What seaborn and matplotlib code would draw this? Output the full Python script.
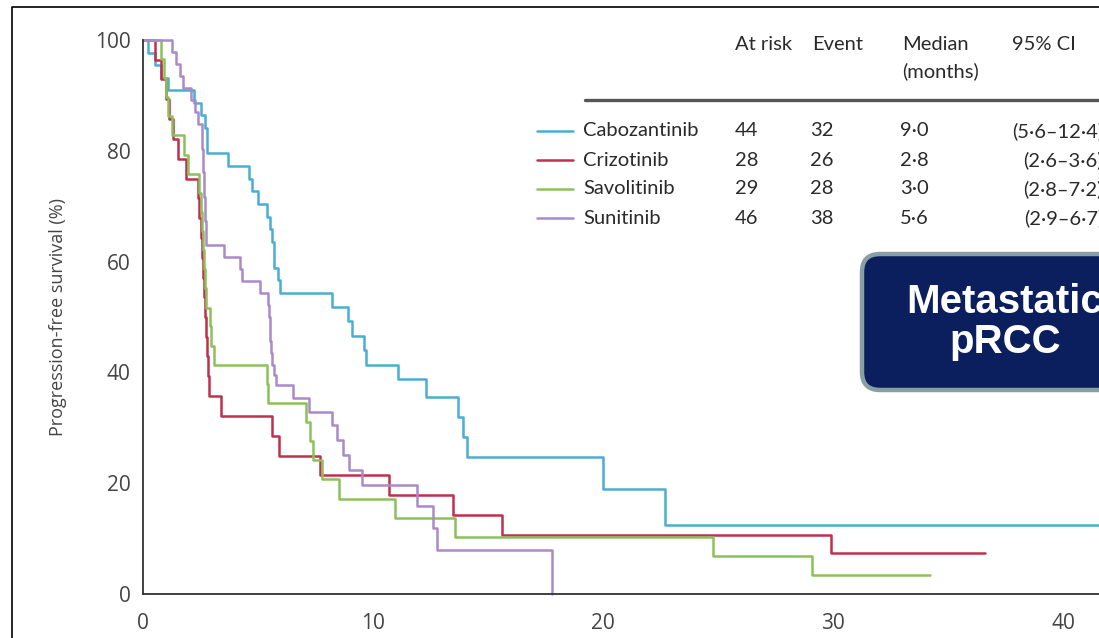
import matplotlib
matplotlib.use("Agg")
import matplotlib.pyplot as plt
from matplotlib.patches import FancyBboxPatch
import numpy as np
import pandas as pd
import seaborn as sns

# Kaplan-Meier step points: (month, % progression-free) after each event
cabo_t = [0, 0.2, 0.5, 0.8, 1.1, 2.2, 2.5, 2.7, 2.8, 3.7, 4.6, 4.75, 5.0, 5.4, 5.5,
          5.6, 5.7, 5.85, 5.95, 8.2, 8.9, 9.1, 9.6, 9.7, 11.1, 12.3, 13.7, 13.9,
          14.1, 20.0, 22.7, 45.0]
cabo_s = [100, 97.7, 95.5, 93.2, 91.0, 88.7, 86.4, 84.1, 79.6, 77.3, 75.0, 72.7,
          70.4, 68.1, 65.8, 63.5, 58.9, 56.6, 54.3, 51.8, 49.2, 46.6, 44.0, 41.3,
          38.8, 35.5, 32.0, 28.4, 24.8, 18.9, 12.5, 12.5]

crizo_t = [0, 0.5, 0.8, 1.0, 1.15, 1.3, 1.5, 1.85, 2.4, 2.45, 2.5, 2.55, 2.6, 2.65,
           2.7, 2.75, 2.8, 2.83, 2.86, 3.4, 5.6, 5.9, 7.7, 10.7, 13.5, 15.6, 29.9,
           36.6]
crizo_s = [100, 96.4, 92.9, 89.3, 85.7, 82.1, 78.6, 75.0, 71.4, 67.9, 64.3, 60.7,
           57.1, 53.6, 50.0, 46.4, 42.9, 39.3, 35.7, 32.1, 28.6, 25.0, 21.4, 17.9,
           14.3, 10.7, 7.4, 7.4]

savo_t = [0, 0.8, 0.9, 1.0, 1.1, 1.25, 1.8, 1.95, 2.45, 2.5, 2.55, 2.6, 2.65, 2.7,
          2.75, 2.9, 2.95, 3.1, 5.4, 5.45, 7.1, 7.25, 7.4, 7.8, 8.5, 10.95, 13.55,
          24.8, 29.1, 34.2]
savo_s = [100, 96.6, 93.1, 89.7, 86.2, 82.8, 79.3, 75.9, 72.4, 69.0, 65.5, 62.1,
          58.6, 55.2, 51.7, 48.3, 44.8, 41.4, 37.9, 34.5, 31.0, 27.6, 24.1, 20.7,
          17.2, 13.8, 10.3, 6.9, 3.5, 3.5]

suni_t = [0, 1.25, 1.45, 1.6, 1.75, 2.1, 2.25, 2.4, 2.55, 2.58, 2.6, 2.62, 2.64,
          2.66, 2.68, 2.7, 2.72, 2.75, 3.5, 4.2, 4.3, 5.1, 5.45, 5.47, 5.5, 5.52,
          5.55, 5.6, 5.7, 5.8, 6.5, 7.2, 8.2, 8.45, 8.7, 8.95, 9.5, 11.9, 12.6,
          12.8, 17.8]
suni_s = [100, 97.8, 95.7, 93.5, 91.3, 89.1, 87.0, 84.8, 82.6, 80.4, 78.3, 76.1,
          73.9, 71.7, 69.6, 67.4, 65.2, 63.0, 60.9, 58.7, 56.5, 54.3, 52.2, 50.0,
          47.8, 45.7, 43.5, 41.3, 39.5, 37.7, 35.3, 32.9, 30.5, 27.8, 25.1, 22.4,
          19.7, 15.8, 11.9, 7.9, 0]

arms = ["Cabozantinib", "Crizotinib", "Savolitinib", "Sunitinib"]
colors = ["#4AADD2", "#C0304E", "#8CC15A", "#A98ACB"]
at_risk = ["44", "28", "29", "46"]
events = ["32", "26", "28", "38"]
medians = ["9·0", "2·8", "3·0", "5·6"]
ci = ["(5·6–12·4)", "(2·6–3·6)", "(2·8–7·2)", "(2·9–6·7)"]

x_ticks = [0, 10, 20, 30, 40]
y_ticks = [0, 20, 40, 60, 80, 100]

frames = []
for name, t, s in zip(arms, [cabo_t, crizo_t, savo_t, suni_t],
                      [cabo_s, crizo_s, savo_s, suni_s]):
    frames.append(pd.DataFrame({"month": t, "pfs": s, "arm": name}))
df = pd.concat(frames, ignore_index=True)

sns.set_theme(style="white")
plt.rcParams["font.family"] = ["Open Sans", "DejaVu Sans"]

W, H = 1099, 638
fig = plt.figure(figsize=(W / 100, H / 100), dpi=100)
fig.patch.set_facecolor("white")

x0, xr = 143, 23.0
ax = fig.add_axes([x0 / W, 44 / H, 1 - x0 / W, (594 - 40) / H])
sns.lineplot(data=df, x="month", y="pfs", hue="arm", hue_order=arms,
             palette=colors, estimator=None, sort=False,
             drawstyle="steps-post", linewidth=1.8, legend=False, ax=ax)
for ln in ax.get_lines():
    ln.set_clip_on(False)

ax.set_xlim(0, (W - x0) / xr)
ax.set_ylim(0, 100)
ax.set_xticks(x_ticks)
ax.set_yticks(y_ticks)
ax.set_xlabel("")
ax.set_ylabel("Progression-free survival (%)", fontsize=13, color="#444444",
              labelpad=20)
for side in ["top", "right"]:
    ax.spines[side].set_visible(False)
for side in ["left", "bottom"]:
    ax.spines[side].set_color("#333333")
    ax.spines[side].set_linewidth(1.3)
ax.tick_params(axis="both", direction="out", length=8, width=1.3,
               color="#333333", labelcolor="#444444", labelsize=15, pad=1)
ax.tick_params(axis="x", pad=6)
ax.patch.set_alpha(0)

# Overlay in pixel coordinates for the table, the banner and the frame
ov = fig.add_axes([0, 0, 1, 1], zorder=5)
ov.set_xlim(0, W)
ov.set_ylim(H, 0)
ov.axis("off")
ov.patch.set_alpha(0)

ov.plot([12, 12, W + 5], [H + 5, 7, 7], color="black", lw=1.2, clip_on=False)

tfont = dict(family=["Lato", "DejaVu Sans"], fontsize=14.5, color="#2a2a2a")
hy = 50
ov.text(735, hy, "At risk", ha="left", va="baseline", **tfont)
ov.text(812, hy, "Event", ha="left", va="baseline", **tfont)
ov.text(902, hy, "Median", ha="left", va="baseline", **tfont)
ov.text(902, hy + 27, "(months)", ha="left", va="baseline", **tfont)
ov.text(1012, hy, "95% CI", ha="left", va="baseline", **tfont)
ov.plot([585, W + 5], [100, 100], color="#555555", lw=2.4, clip_on=False)

row_y = [131, 160, 189, 218]
for i, yy in enumerate(row_y):
    ov.plot([537, 573], [yy, yy], color=colors[i], lw=1.8)
    ov.text(583, yy, arms[i], ha="left", va="center", **tfont)
    ov.text(735, yy, at_risk[i], ha="left", va="center", **tfont)
    ov.text(810, yy, events[i], ha="left", va="center", **tfont)
    ov.text(900, yy, medians[i], ha="left", va="center", **tfont)
    ov.text(1103, yy, ci[i], ha="right", va="center", clip_on=False, **tfont)

box = FancyBboxPatch((862, 254), 300, 136,
                     boxstyle="round,pad=0,rounding_size=18",
                     facecolor="#0B1F5E", edgecolor="#8A9FA4", linewidth=3.2,
                     clip_on=False)
ov.add_patch(box)
bfont = dict(family=["Liberation Sans", "DejaVu Sans"], fontsize=29,
             fontweight="bold", color="white", ha="center", va="center")
ov.text(1005, 302, "Metastatic", **bfont)
ov.text(1005, 342, "pRCC", **bfont)

fig.savefig("out.png", dpi=100, facecolor="white")
